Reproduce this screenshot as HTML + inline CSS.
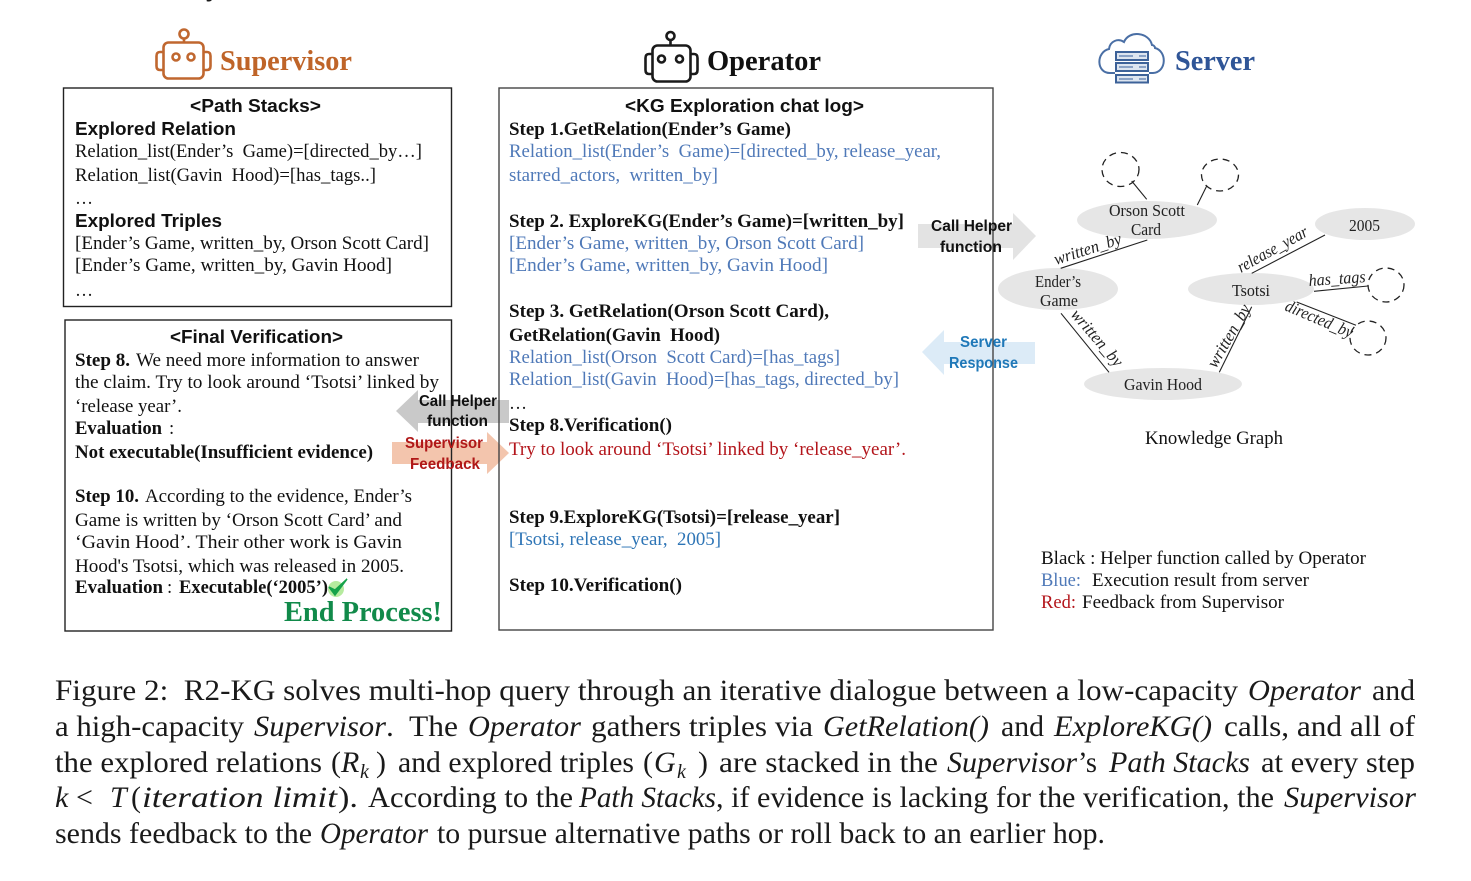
<!DOCTYPE html>
<html>
<head>
<meta charset="utf-8">
<style>
html,body{margin:0;padding:0;background:#fff;width:1471px;height:881px;overflow:hidden}
svg{display:block}
text{font-family:"Liberation Serif",serif;font-size:18.8px;fill:#111;white-space:pre}
.b{font-weight:bold}
.i{font-style:italic}
.s{font-family:"Liberation Sans",sans-serif;font-weight:bold}
.blue{fill:#4f79b8}
.red{fill:#b3151b}
.c{font-size:30px;fill:#1a1a1a}
.n{font-size:16.5px;fill:#222}
.e{font-size:17px;font-style:italic;fill:#222}
.a{font-family:"Liberation Sans",sans-serif;font-weight:bold;font-size:15.5px}
</style>
</head>
<body>
<svg xmlns="http://www.w3.org/2000/svg" width="1471" height="881" viewBox="0 0 1471 881">
<rect width="1471" height="881" fill="#fff"/>
<text class="c" x="206" y="-5">y</text>

<!-- Supervisor robot -->
<g fill="none" stroke="#c0672f" stroke-width="2.6">
<rect x="163.500" y="42.500" width="40" height="36" rx="5"/>
<path d="M163 52h-3q-3.500 0-3.500 4v10q0 4 3.500 4h3M204 52h3q3.500 0 3.500 4v10q0 4-3.500 4h-3"/>
<circle cx="184" cy="34" r="4.500"/><path d="M184 38.500v4"/>
<circle cx="176" cy="57" r="3.500"/><circle cx="191" cy="57" r="3.500"/>
</g>
<text class="b" x="220" y="70" textLength="132" lengthAdjust="spacingAndGlyphs" style="font-size:28px;fill:#bf6428">Supervisor</text>

<!-- Operator robot -->
<g fill="none" stroke="#1a1a1a" stroke-width="2.6">
<rect x="652.500" y="45.500" width="38" height="36" rx="5"/>
<path d="M652 54h-3q-3.500 0-3.500 4v12q0 4 3.500 4h3M691 54h3q3.500 0 3.500 4v12q0 4-3.500 4h-3"/>
<circle cx="670.500" cy="36" r="4"/><path d="M670.500 40v5"/>
<circle cx="661.500" cy="59" r="3.500"/><circle cx="679.500" cy="59" r="3.500"/>
</g>
<text class="b" x="707" y="70" textLength="114" lengthAdjust="spacingAndGlyphs" style="font-size:28px;fill:#111">Operator</text>

<!-- Server icon -->
<path d="M1115 73h-5c-14 0-14-21-1-24 1-8 9-11 15-7 5-12 25-10 28 3 1 0 3 1 3 3 12 3 12 24-2 25h-4" fill="none" stroke="#4a6fa5" stroke-width="2"/>
<g fill="#dde5f0" stroke="#3d6299" stroke-width="2">
<rect x="1116" y="52" width="32" height="8"/>
<rect x="1116" y="63" width="32" height="8"/>
<rect x="1116" y="75" width="32" height="7.500"/>
</g>
<g stroke="#6f8cb8" stroke-width="1.500">
<path d="M1119 56h14M1139 56h7M1119 67h14M1139 67h7M1119 79h14M1139 79h7"/>
</g>
<text class="b" x="1175" y="70" textLength="80" lengthAdjust="spacingAndGlyphs" style="font-size:28px;fill:#2f5597">Server</text>

<!-- Arrows -->
<polygon points="918,224 1013,224 1013,213 1036,236 1013,260 1013,248 918,248" fill="#e3e3e3"/>
<polygon points="922,352 944,330 944,342 1035,342 1035,364 944,364 944,375" fill="#dcebf7"/>
<polygon points="396,411 418,390 418,400 509,400 509,423 418,423 418,432" fill="#c9c9c9"/>
<polygon points="392,442 487,442 487,432 509,453 487,474 487,464 392,464" fill="#f3c5ad"/>

<!-- Boxes -->
<g fill="none" stroke="#222" stroke-width="1.400">
<rect x="63.500" y="88" width="388" height="218.500"/>
<rect x="65" y="320" width="386.500" height="311"/>
<rect x="499" y="88" width="494" height="542" stroke="#444"/>
</g>

<!-- Path stacks -->
<text class="s" x="190" y="112" textLength="131" lengthAdjust="spacingAndGlyphs" style="font-size:18px">&lt;Path Stacks&gt;</text>
<text class="s" x="75" y="135" textLength="161" lengthAdjust="spacingAndGlyphs" style="font-size:18.5px">Explored Relation</text>
<text x="75" y="157" textLength="347" lengthAdjust="spacingAndGlyphs">Relation_list(Ender’s  Game)=[directed_by…]</text>
<text x="75" y="181" textLength="301" lengthAdjust="spacingAndGlyphs">Relation_list(Gavin  Hood)=[has_tags..]</text>
<text x="75" y="204" textLength="18" lengthAdjust="spacingAndGlyphs">…</text>
<text class="s" x="75" y="227" textLength="147" lengthAdjust="spacingAndGlyphs" style="font-size:18.5px">Explored Triples</text>
<text x="75" y="249" textLength="354" lengthAdjust="spacingAndGlyphs">[Ender’s Game, written_by, Orson Scott Card]</text>
<text x="75" y="271" textLength="317" lengthAdjust="spacingAndGlyphs">[Ender’s Game, written_by, Gavin Hood]</text>
<text x="75" y="296" textLength="18" lengthAdjust="spacingAndGlyphs">…</text>

<!-- Final verification -->
<text class="s" x="170" y="343" textLength="173" lengthAdjust="spacingAndGlyphs" style="font-size:18px">&lt;Final Verification&gt;</text>
<text class="b" x="75" y="366" textLength="55" lengthAdjust="spacingAndGlyphs">Step 8.</text>
<text x="136" y="366" textLength="283" lengthAdjust="spacingAndGlyphs">We need more information to answer</text>
<text x="75" y="388" textLength="364" lengthAdjust="spacingAndGlyphs">the claim. Try to look around ‘Tsotsi’ linked by</text>
<text x="75" y="412" textLength="107" lengthAdjust="spacingAndGlyphs">‘release year’.</text>
<text class="b" x="75" y="434" textLength="87" lengthAdjust="spacingAndGlyphs">Evaluation</text>
<text x="169" y="434">:</text>
<text class="b" x="75" y="458" textLength="298" lengthAdjust="spacingAndGlyphs">Not executable(Insufficient evidence)</text>
<text class="b" x="75" y="502" textLength="64" lengthAdjust="spacingAndGlyphs">Step 10.</text>
<text x="145" y="502" textLength="267" lengthAdjust="spacingAndGlyphs">According to the evidence, Ender’s</text>
<text x="75" y="526" textLength="327" lengthAdjust="spacingAndGlyphs">Game is written by ‘Orson Scott Card’ and</text>
<text x="75" y="548" textLength="327" lengthAdjust="spacingAndGlyphs">‘Gavin Hood’. Their other work is Gavin</text>
<text x="75" y="572" textLength="329" lengthAdjust="spacingAndGlyphs">Hood's Tsotsi, which was released in 2005.</text>
<text class="b" x="75" y="593" textLength="88" lengthAdjust="spacingAndGlyphs">Evaluation</text>
<text x="167" y="593">:</text>
<text class="b" x="179" y="593" textLength="149" lengthAdjust="spacingAndGlyphs">Executable(‘2005’)</text>
<circle cx="336" cy="589" r="8" fill="#b6eb9f"/>
<path d="M329 587l6 8 12-16-12 11z" fill="#16a34a" stroke="#16a34a" stroke-width="1.500"/>
<text class="b" x="284" y="621" textLength="158" lengthAdjust="spacingAndGlyphs" style="font-size:28px;fill:#118a4a">End Process!</text>

<!-- Chat log -->
<text class="s" x="625" y="112" textLength="239" lengthAdjust="spacingAndGlyphs" style="font-size:18px">&lt;KG Exploration chat log&gt;</text>
<text class="b" x="509" y="135" textLength="282" lengthAdjust="spacingAndGlyphs">Step 1.GetRelation(Ender’s Game)</text>
<text class="blue" x="509" y="157" textLength="432" lengthAdjust="spacingAndGlyphs">Relation_list(Ender’s  Game)=[directed_by, release_year,</text>
<text class="blue" x="509" y="181" textLength="209" lengthAdjust="spacingAndGlyphs">starred_actors,  written_by]</text>
<text class="b" x="509" y="227" textLength="395" lengthAdjust="spacingAndGlyphs">Step 2. ExploreKG(Ender’s Game)=[written_by]</text>
<text class="blue" x="509" y="249" textLength="355" lengthAdjust="spacingAndGlyphs">[Ender’s Game, written_by, Orson Scott Card]</text>
<text class="blue" x="509" y="271" textLength="319" lengthAdjust="spacingAndGlyphs">[Ender’s Game, written_by, Gavin Hood]</text>
<text class="b" x="509" y="317" textLength="320" lengthAdjust="spacingAndGlyphs">Step 3. GetRelation(Orson Scott Card),</text>
<text class="b" x="509" y="341" textLength="211" lengthAdjust="spacingAndGlyphs">GetRelation(Gavin  Hood)</text>
<text class="blue" x="509" y="363" textLength="331" lengthAdjust="spacingAndGlyphs">Relation_list(Orson  Scott Card)=[has_tags]</text>
<text class="blue" x="509" y="385" textLength="390" lengthAdjust="spacingAndGlyphs">Relation_list(Gavin  Hood)=[has_tags, directed_by]</text>
<text x="509" y="409" textLength="18" lengthAdjust="spacingAndGlyphs">…</text>
<text class="b" x="509" y="431" textLength="163" lengthAdjust="spacingAndGlyphs">Step 8.Verification()</text>
<text class="red" x="509" y="455" textLength="397" lengthAdjust="spacingAndGlyphs">Try to look around ‘Tsotsi’ linked by ‘release_year’.</text>
<text class="b" x="509" y="523" textLength="331" lengthAdjust="spacingAndGlyphs">Step 9.ExploreKG(Tsotsi)=[release_year]</text>
<text x="509" y="545" textLength="212" lengthAdjust="spacingAndGlyphs" style="fill:#2e75b6">[Tsotsi, release_year,  2005]</text>
<text class="b" x="509" y="591" textLength="173" lengthAdjust="spacingAndGlyphs">Step 10.Verification()</text>

<!-- Arrow labels -->
<text class="a" x="931" y="231" textLength="81" lengthAdjust="spacingAndGlyphs">Call Helper</text>
<text class="a" x="940" y="252" textLength="62" lengthAdjust="spacingAndGlyphs">function</text>
<text class="a" x="960" y="347" textLength="47" lengthAdjust="spacingAndGlyphs" style="fill:#1f78b8">Server</text>
<text class="a" x="949" y="368" textLength="69" lengthAdjust="spacingAndGlyphs" style="fill:#1f78b8">Response</text>
<text class="a" x="419" y="406" textLength="78" lengthAdjust="spacingAndGlyphs">Call Helper</text>
<text class="a" x="427" y="426" textLength="61" lengthAdjust="spacingAndGlyphs">function</text>
<text class="a" x="405" y="448" textLength="78" lengthAdjust="spacingAndGlyphs" style="fill:#b01818">Supervisor</text>
<text class="a" x="410" y="469" textLength="70" lengthAdjust="spacingAndGlyphs" style="fill:#b01818">Feedback</text>

<!-- Knowledge graph -->
<g fill="#e6e6e6">
<ellipse cx="1147" cy="220" rx="70" ry="19"/>
<ellipse cx="1365" cy="224" rx="50" ry="16"/>
<ellipse cx="1058" cy="289" rx="60" ry="21"/>
<ellipse cx="1251" cy="289" rx="63" ry="16"/>
<ellipse cx="1163" cy="384" rx="79" ry="16"/>
</g>
<g fill="none" stroke="#222" stroke-width="1.300" stroke-dasharray="7 5">
<ellipse cx="1120.500" cy="169.500" rx="18.500" ry="17"/>
<ellipse cx="1220" cy="175" rx="18.500" ry="16"/>
<ellipse cx="1386" cy="285" rx="18" ry="17"/>
<ellipse cx="1368" cy="338" rx="18" ry="17"/>
</g>
<g stroke="#222" stroke-width="1.100">
<line x1="1131.700" y1="181" x2="1146.700" y2="199.300"/>
<line x1="1197.300" y1="205" x2="1206.700" y2="186"/>
<line x1="1060.700" y1="268.300" x2="1147.300" y2="240"/>
<line x1="1251.700" y1="273.300" x2="1325" y2="235"/>
<line x1="1314" y1="291.300" x2="1368" y2="286"/>
<line x1="1296.700" y1="302" x2="1356" y2="325.300"/>
<line x1="1061" y1="313.300" x2="1109" y2="372.300"/>
<line x1="1219.300" y1="372.300" x2="1251.700" y2="306.700"/>
</g>
<text class="n" x="1109" y="216" textLength="76" lengthAdjust="spacingAndGlyphs">Orson Scott</text>
<text class="n" x="1131" y="235" textLength="30" lengthAdjust="spacingAndGlyphs">Card</text>
<text class="n" x="1349" y="231" textLength="31" lengthAdjust="spacingAndGlyphs">2005</text>
<text class="n" x="1035" y="287" textLength="46" lengthAdjust="spacingAndGlyphs">Ender’s</text>
<text class="n" x="1040" y="306" textLength="38" lengthAdjust="spacingAndGlyphs">Game</text>
<text class="n" x="1232" y="296" textLength="38" lengthAdjust="spacingAndGlyphs">Tsotsi</text>
<text class="n" x="1124" y="390" textLength="78" lengthAdjust="spacingAndGlyphs">Gavin Hood</text>
<text class="e" transform="translate(1056,265) rotate(-18)" textLength="70" lengthAdjust="spacingAndGlyphs">written_by</text>
<text class="e" transform="translate(1241,273) rotate(-29)" textLength="78" lengthAdjust="spacingAndGlyphs">release_year</text>
<text class="e" transform="translate(1309,286) rotate(-4)" textLength="57" lengthAdjust="spacingAndGlyphs">has_tags</text>
<text class="e" transform="translate(1284,310) rotate(23)" textLength="72" lengthAdjust="spacingAndGlyphs">directed_by</text>
<text class="e" transform="translate(1070,315) rotate(49)" textLength="70" lengthAdjust="spacingAndGlyphs">written_by</text>
<text class="e" transform="translate(1216,369) rotate(-60)" textLength="70" lengthAdjust="spacingAndGlyphs">written_by</text>
<text x="1145" y="444" textLength="138" lengthAdjust="spacingAndGlyphs">Knowledge Graph</text>

<!-- Legend -->
<text x="1041" y="564" textLength="325" lengthAdjust="spacingAndGlyphs">Black : Helper function called by Operator</text>
<text x="1041" y="586" textLength="40" lengthAdjust="spacingAndGlyphs" style="fill:#4f79b8">Blue:</text>
<text x="1092" y="586" textLength="217" lengthAdjust="spacingAndGlyphs">Execution result from server</text>
<text x="1041" y="608" textLength="35" lengthAdjust="spacingAndGlyphs" style="fill:#b3151b">Red:</text>
<text x="1082" y="608" textLength="202" lengthAdjust="spacingAndGlyphs">Feedback from Supervisor</text>

<!-- Caption -->
<text class="c" x="55" y="700" textLength="1183" lengthAdjust="spacingAndGlyphs">Figure 2:  R2-KG solves multi-hop query through an iterative dialogue between a low-capacity</text>
<text class="c i" x="1248" y="700" textLength="113" lengthAdjust="spacingAndGlyphs">Operator</text>
<text class="c" x="1372" y="700" textLength="43" lengthAdjust="spacingAndGlyphs">and</text>

<text class="c" x="55" y="736" textLength="189" lengthAdjust="spacingAndGlyphs">a high-capacity</text>
<text class="c i" x="254" y="736" textLength="132" lengthAdjust="spacingAndGlyphs">Supervisor</text>
<text class="c" x="386" y="736" textLength="72" lengthAdjust="spacingAndGlyphs">.  The</text>
<text class="c i" x="468" y="736" textLength="113" lengthAdjust="spacingAndGlyphs">Operator</text>
<text class="c" x="591" y="736" textLength="222" lengthAdjust="spacingAndGlyphs">gathers triples via</text>
<text class="c i" x="823" y="736" textLength="166" lengthAdjust="spacingAndGlyphs">GetRelation()</text>
<text class="c" x="1001" y="736" textLength="43" lengthAdjust="spacingAndGlyphs">and</text>
<text class="c i" x="1054" y="736" textLength="158" lengthAdjust="spacingAndGlyphs">ExploreKG()</text>
<text class="c" x="1224" y="736" textLength="191" lengthAdjust="spacingAndGlyphs">calls, and all of</text>

<text class="c" x="55" y="772" textLength="267" lengthAdjust="spacingAndGlyphs">the explored relations</text>
<text class="c" x="331" y="772">(</text>
<text class="c i" x="341" y="772">R</text>
<text class="c i" x="360" y="778" style="font-size:20px">k</text>
<text class="c" x="376" y="772">)</text>
<text class="c" x="398" y="772" textLength="236" lengthAdjust="spacingAndGlyphs">and explored triples</text>
<text class="c" x="643" y="772">(</text>
<text class="c i" x="654" y="772">G</text>
<text class="c i" x="677" y="778" style="font-size:20px">k</text>
<text class="c" x="698" y="772">)</text>
<text class="c" x="719" y="772" textLength="219" lengthAdjust="spacingAndGlyphs">are stacked in the</text>
<text class="c i" x="947" y="772" textLength="130" lengthAdjust="spacingAndGlyphs">Supervisor</text>
<text class="c" x="1078" y="772" textLength="19" lengthAdjust="spacingAndGlyphs">’s</text>
<text class="c i" x="1109" y="772" textLength="141" lengthAdjust="spacingAndGlyphs">Path Stacks</text>
<text class="c" x="1261" y="772" textLength="154" lengthAdjust="spacingAndGlyphs">at every step</text>

<text class="c i" x="55" y="807">k</text>
<text class="c" x="76" y="807">&lt;</text>
<text class="c i" x="110" y="807">T</text>
<text class="c" x="131" y="807">(</text>
<text class="c i" x="142" y="807" textLength="195" lengthAdjust="spacingAndGlyphs">iteration limit</text>
<text class="c" x="338" y="807" textLength="20" lengthAdjust="spacingAndGlyphs">).</text>
<text class="c" x="368" y="807" textLength="205" lengthAdjust="spacingAndGlyphs">According to the</text>
<text class="c i" x="579" y="807" textLength="137" lengthAdjust="spacingAndGlyphs">Path Stacks</text>
<text class="c" x="716" y="807" textLength="558" lengthAdjust="spacingAndGlyphs">, if evidence is lacking for the verification, the</text>
<text class="c i" x="1284" y="807" textLength="132" lengthAdjust="spacingAndGlyphs">Supervisor</text>

<text class="c" x="55" y="843" textLength="257" lengthAdjust="spacingAndGlyphs">sends feedback to the</text>
<text class="c i" x="320" y="843" textLength="108" lengthAdjust="spacingAndGlyphs">Operator</text>
<text class="c" x="437" y="843" textLength="668" lengthAdjust="spacingAndGlyphs">to pursue alternative paths or roll back to an earlier hop.</text>
</svg>
</body>
</html>
